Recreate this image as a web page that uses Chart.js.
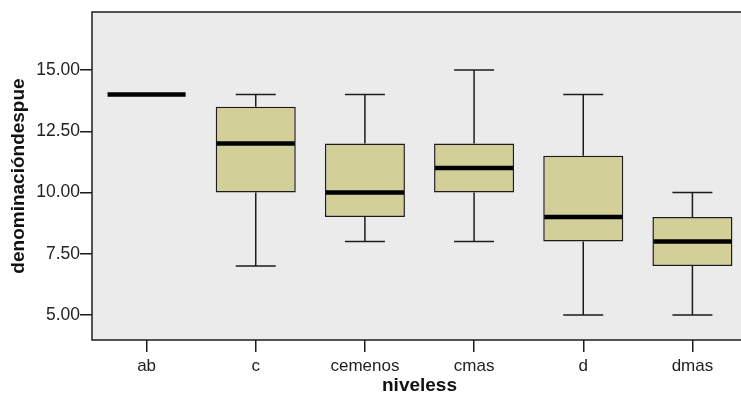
<!DOCTYPE html>
<html lang="es">
<head>
<meta charset="utf-8">
<title>Boxplot niveless</title>
<script src="https://cdn.jsdelivr.net/npm/chart.js@4.4.1/dist/chart.umd.min.js"></script>
<style>
  html, body { margin: 0; padding: 0; background: #fff; overflow: hidden; }
  #box { display: block; }
</style>
</head>
<body>
<canvas id="box" width="760" height="398"></canvas>
<script>
// values
var categories = ['ab', 'c', 'cemenos', 'cmas', 'd', 'dmas'];
var minValues = [14, 7, 8, 8, 5, 5];
var q1Values = [14, 10, 9, 10, 8, 7];
var medianValues = [14, 12, 10, 11, 9, 8];
var q3Values = [14, 13.5, 12, 12, 11.5, 9];
var maxValues = [14, 14, 14, 15, 14, 10];
var yTicks = [5, 7.5, 10, 12.5, 15];

var ink = '#1c1c1c';

var boxPlugin = {
  id: 'boxParts',
  beforeDraw: function(chart) {
    var a = chart.chartArea, ctx = chart.ctx;
    ctx.save();
    ctx.fillStyle = '#ebebeb';
    ctx.fillRect(a.left, a.top, a.right - a.left, a.bottom - a.top);
    ctx.restore();
  },
  beforeDatasetsDraw: function(chart) {
    var ctx = chart.ctx, y = chart.scales.y;
    var bars = chart.getDatasetMeta(0).data;
    ctx.save();
    ctx.strokeStyle = ink;
    ctx.lineWidth = 1.5;
    for (var i = 0; i < categories.length; i++) {
      if (minValues[i] === maxValues[i]) continue;
      var cx = bars[i].x, half = bars[i].width / 4;
      var yMin = y.getPixelForValue(minValues[i]);
      var yMax = y.getPixelForValue(maxValues[i]);
      ctx.beginPath();
      ctx.moveTo(cx, yMin); ctx.lineTo(cx, y.getPixelForValue(q1Values[i]));
      ctx.moveTo(cx, y.getPixelForValue(q3Values[i])); ctx.lineTo(cx, yMax);
      ctx.moveTo(cx - half, yMin); ctx.lineTo(cx + half, yMin);
      ctx.moveTo(cx - half, yMax); ctx.lineTo(cx + half, yMax);
      ctx.stroke();
    }
    ctx.restore();
  },
  afterDatasetsDraw: function(chart) {
    var ctx = chart.ctx, y = chart.scales.y, a = chart.chartArea;
    var bars = chart.getDatasetMeta(0).data;
    ctx.save();
    ctx.strokeStyle = '#000';
    ctx.lineWidth = 4.5;
    for (var i = 0; i < categories.length; i++) {
      var w = bars[i].width / 2;
      var ym = y.getPixelForValue(medianValues[i]);
      ctx.beginPath();
      ctx.moveTo(bars[i].x - w + 1, ym);
      ctx.lineTo(bars[i].x + w - 1, ym);
      ctx.stroke();
    }
    ctx.strokeStyle = ink;
    ctx.lineWidth = 1.5;
    ctx.strokeRect(a.left, a.top, a.right - a.left, a.bottom - a.top);
    ctx.restore();
  }
};

new Chart(document.getElementById('box'), {
  type: 'bar',
  data: {
    labels: categories,
    datasets: [{
      data: categories.map(function(c, i) { return [q1Values[i], q3Values[i]]; }),
      backgroundColor: '#d3cf98',
      borderColor: ink,
      borderWidth: 1.5,
      borderSkipped: false,
      categoryPercentage: 1,
      barPercentage: 0.733
    }]
  },
  options: {
    responsive: false,
    animation: false,
    layout: { padding: { top: 12, right: 13, left: 0, bottom: 0 } },
    plugins: { legend: { display: false }, tooltip: { enabled: false } },
    scales: {
      x: {
        offset: true,
        grid: { drawOnChartArea: false, drawTicks: true, tickLength: 12, color: ink, lineWidth: 1.5, offset: false },
        border: { display: false },
        ticks: { color: '#222', padding: 4, font: { family: 'Liberation Sans', size: 17 } },
        title: { display: true, text: 'niveless', color: '#111', padding: { top: 0, bottom: 1 },
                 font: { family: 'Liberation Sans', size: 19, weight: 'bold' } },
        afterFit: function(s) { s.height = 58; }
      },
      y: {
        min: 3.98,
        max: 17.37,
        afterBuildTicks: function(s) { s.ticks = yTicks.map(function(v) { return { value: v }; }); },
        grid: { drawOnChartArea: false, drawTicks: true, tickLength: 12, color: ink, lineWidth: 1.5 },
        border: { display: false },
        ticks: {
          color: '#222', padding: 0,
          font: { family: 'Liberation Sans', size: 17.5 },
          callback: function(v) { return Number(v).toFixed(2); }
        },
        title: { display: true, text: 'denominacióndespue', color: '#111', padding: { top: 7, bottom: 0 },
                 font: { family: 'Liberation Sans', size: 19, weight: 'bold' } },
        afterFit: function(s) { s.width = 92; }
      }
    }
  },
  plugins: [boxPlugin]
});
</script>
</body>
</html>
